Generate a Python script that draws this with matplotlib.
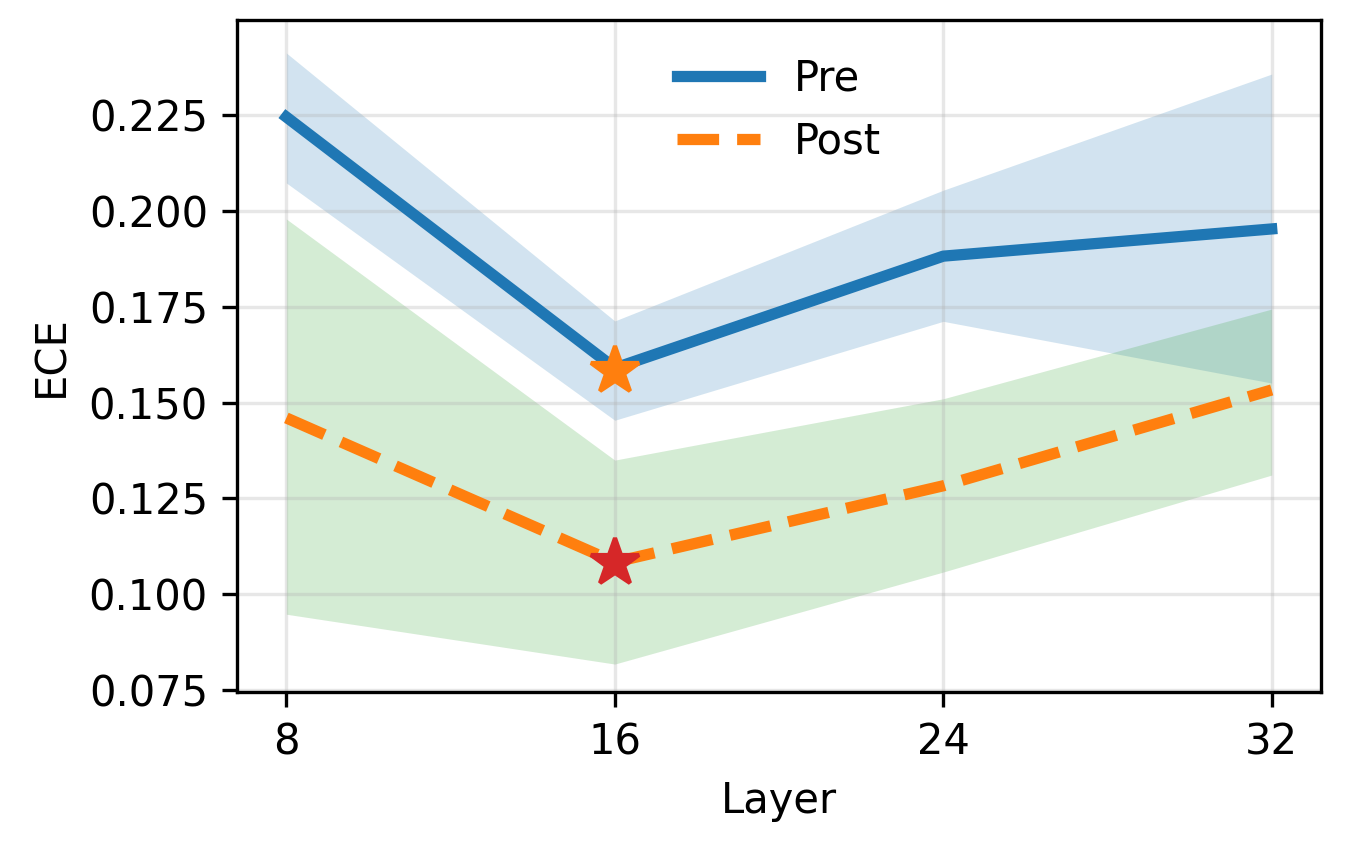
import matplotlib
matplotlib.use("Agg")
import matplotlib.pyplot as plt
from matplotlib.ticker import MultipleLocator, FormatStrFormatter

layers = [8, 16, 24, 32]

pre_mean = [0.2245, 0.1590, 0.1882, 0.1953]
pre_low = [0.2073, 0.1454, 0.1712, 0.1551]
pre_high = [0.2412, 0.1713, 0.2054, 0.2357]

post_mean = [0.1460, 0.1084, 0.1283, 0.1533]
post_low = [0.0948, 0.0818, 0.1058, 0.1311]
post_high = [0.1979, 0.1350, 0.1510, 0.1744]

best_layer = 16
best_pre = 0.1582
best_post = 0.1082

plt.rcParams["font.size"] = 10

fig, ax = plt.subplots(figsize=(4.5, 2.85), dpi=300)
fig.subplots_adjust(left=0.1756, right=0.9785, top=0.9766, bottom=0.1906)

ax.fill_between(layers, pre_low, pre_high, color="tab:blue", alpha=0.2, linewidth=0)
ax.fill_between(layers, post_low, post_high, color="tab:green", alpha=0.2, linewidth=0)
ax.plot(layers, pre_mean, color="tab:blue", linewidth=2.7, label="Pre")
ax.plot(layers, post_mean, color="tab:orange", linewidth=2.7, linestyle="--", label="Post")

ax.plot(best_layer, best_pre, marker="*", color="tab:orange", markersize=12, linestyle="none")
ax.plot(best_layer, best_post, marker="*", color="tab:red", markersize=12, linestyle="none")

ax.set_xticks(layers)
ax.set_ylim(0.0745, 0.2498)
ax.yaxis.set_major_locator(MultipleLocator(0.025))
ax.yaxis.set_major_formatter(FormatStrFormatter("%.3f"))
ax.set_xlabel("Layer")
ax.set_ylabel("ECE")
ax.grid(True, alpha=0.3)
ax.legend(loc="upper center", frameon=False)

plt.savefig("out.png", dpi=300)
